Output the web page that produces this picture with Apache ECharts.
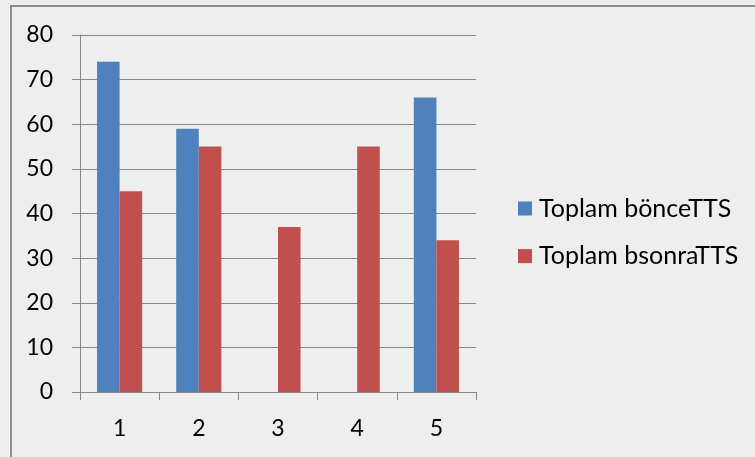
<!DOCTYPE html>
<html>
<head>
<meta charset="utf-8">
<script src="https://cdn.jsdelivr.net/npm/echarts@6/dist/echarts.min.js"></script>
<style>
html,body{margin:0;padding:0;background:#eeeeee;}
#c{width:755px;height:457px;}
</style>
</head>
<body>
<div id="c"></div>
<script>
const categories = ['1', '2', '3', '4', '5'];
const seriesNames = ['Toplam bönceTTS', 'Toplam bsonraTTS'];
const onceValues = [74, 59, null, null, 66];
const sonraValues = [45, 55, 37, 55, 34];
const yTicks = { min: 0, max: 80, interval: 10 };

const FONT = 'Lato';
const FS = 23;
const LFS = 25;
const gray = '#868686';

const chart = echarts.init(document.getElementById('c'), null, { renderer: 'canvas' });
chart.setOption({
  backgroundColor: '#eeeeee',
  animation: false,
  textStyle: { fontFamily: FONT },
  graphic: [{
    type: 'rect',
    shape: { x: 11, y: 6, width: 1000, height: 1000 },
    style: { fill: 'none', stroke: '#8c8c8c', lineWidth: 2 },
    silent: true
  }],
  grid: { left: 80, right: 279, top: 35, bottom: 65 },
  legend: {
    orient: 'vertical',
    left: 518,
    top: 196,
    padding: 0,
    itemWidth: 14,
    itemHeight: 14,
    itemGap: 22.6,
    icon: 'rect',
    textStyle: { fontFamily: FONT, fontSize: LFS, color: '#000', padding: [0, 0, 0, 2], lineHeight: 25 },
    data: seriesNames
  },
  xAxis: {
    type: 'category',
    data: categories,
    axisLine: { lineStyle: { color: gray, width: 1 } },
    axisTick: { show: true, length: 8, alignWithLabel: false, lineStyle: { color: gray } },
    axisLabel: { color: '#000', fontSize: FS, fontFamily: FONT, margin: 25 },
    splitLine: { show: false }
  },
  yAxis: {
    type: 'value',
    min: yTicks.min,
    max: yTicks.max,
    interval: yTicks.interval,
    axisLine: { show: true, lineStyle: { color: gray, width: 1 } },
    axisTick: { show: true, length: 8, lineStyle: { color: gray } },
    axisLabel: { color: '#000', fontSize: FS, fontFamily: FONT, margin: 27 },
    splitLine: { show: true, lineStyle: { color: gray, width: 1 } }
  },
  series: [
    {
      name: seriesNames[0],
      type: 'bar',
      data: onceValues,
      barGap: '0%',
      barCategoryGap: '43%',
      itemStyle: { color: '#4f81bd' }
    },
    {
      name: seriesNames[1],
      type: 'bar',
      data: sonraValues,
      barGap: '0%',
      barCategoryGap: '43%',
      itemStyle: { color: '#c0504d' }
    }
  ]
});
</script>
</body>
</html>
